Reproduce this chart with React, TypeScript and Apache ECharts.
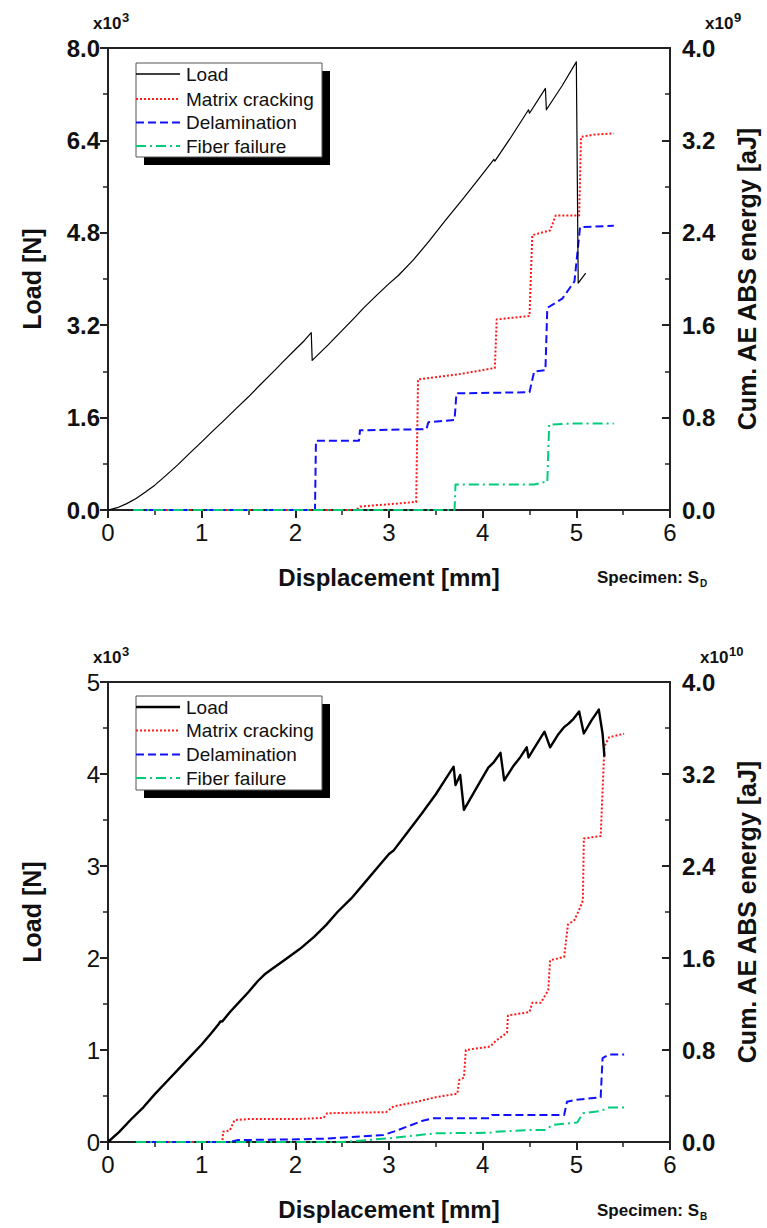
import React, { useEffect, useRef } from "react";
import * as echarts from "echarts";

// ---------- data (top chart: Specimen S_D) ----------
// displacement [mm], load [x10^3 N]
const topLoad: [number, number][] = [
  [0, 0], [0.1, 0.04], [0.2, 0.11], [0.3, 0.2], [0.4, 0.31], [0.5, 0.43], [0.62, 0.6],
  [0.75, 0.79], [0.87, 0.98], [1.0, 1.18], [1.12, 1.37], [1.25, 1.57], [1.37, 1.76],
  [1.5, 1.96], [1.62, 2.16], [1.75, 2.37], [1.87, 2.57], [2.0, 2.78], [2.1, 2.94],
  [2.17, 3.07], [2.18, 2.59], [2.35, 2.86], [2.5, 3.11], [2.62, 3.31], [2.73, 3.5],
  [2.87, 3.72], [3.0, 3.92], [3.1, 4.06], [3.26, 4.33], [3.43, 4.66], [3.6, 5.01],
  [3.8, 5.41], [4.0, 5.82], [4.12, 6.07], [4.13, 6.04], [4.3, 6.45], [4.49, 6.93],
  [4.5, 6.87], [4.67, 7.3], [4.68, 6.93], [4.85, 7.35], [5.0, 7.76], [5.02, 3.93],
  [5.1, 4.1],
];
// displacement [mm], cumulative AE energy [x10^9 aJ]
const topMatrix: [number, number][] = [
  [0.27, 0], [2.65, 0], [2.69, 0.03], [3.0, 0.05], [3.29, 0.07], [3.31, 1.13], [3.78, 1.18],
  [4.13, 1.23], [4.15, 1.65], [4.5, 1.68], [4.53, 2.38], [4.72, 2.42], [4.78, 2.55],
  [5.03, 2.55], [5.05, 3.23], [5.19, 3.25], [5.4, 3.26],
];
const topDelam: [number, number][] = [
  [0.27, 0], [2.21, 0], [2.22, 0.6], [2.68, 0.6], [2.69, 0.69], [3.4, 0.7], [3.42, 0.76],
  [3.7, 0.78], [3.72, 1.01], [4.5, 1.02], [4.55, 1.2], [4.67, 1.21], [4.69, 1.75],
  [4.85, 1.83], [4.98, 1.98], [5.04, 2.45], [5.4, 2.46],
];
const topFiber: [number, number][] = [
  [0.27, 0], [3.7, 0], [3.71, 0.22], [4.55, 0.22], [4.65, 0.24], [4.69, 0.24],
  [4.71, 0.74], [5.0, 0.75], [5.4, 0.75],
];

// ---------- data (bottom chart: Specimen S_B) ----------
// displacement [mm], load [x10^3 N]
const botLoad: [number, number][] = [
  [0, 0], [0.12, 0.11], [0.25, 0.25], [0.38, 0.38], [0.5, 0.52], [0.62, 0.65],
  [0.75, 0.79], [0.87, 0.92], [1.0, 1.06], [1.1, 1.18], [1.18, 1.28], [1.2, 1.31],
  [1.22, 1.31], [1.3, 1.41], [1.4, 1.52], [1.5, 1.63], [1.6, 1.75], [1.67, 1.82],
  [1.75, 1.88], [1.9, 1.99], [2.05, 2.1], [2.2, 2.23], [2.33, 2.36], [2.45, 2.5],
  [2.6, 2.65], [2.75, 2.83], [2.9, 3.01], [3.0, 3.13], [3.05, 3.17], [3.2, 3.37],
  [3.35, 3.57], [3.5, 3.78], [3.6, 3.94], [3.69, 4.08], [3.71, 3.88], [3.76, 3.99],
  [3.8, 3.61], [3.93, 3.84], [4.06, 4.07], [4.12, 4.13], [4.19, 4.23], [4.23, 3.93],
  [4.33, 4.09], [4.4, 4.18], [4.47, 4.29], [4.49, 4.18], [4.58, 4.33], [4.66, 4.46],
  [4.72, 4.29], [4.8, 4.42], [4.87, 4.51], [4.92, 4.55], [4.97, 4.6], [5.03, 4.68],
  [5.08, 4.44], [5.16, 4.58], [5.24, 4.7], [5.28, 4.44], [5.3, 4.19],
];
// displacement [mm], cumulative AE energy [x10^10 aJ]
const botMatrix: [number, number][] = [
  [0.3, 0], [1.22, 0], [1.23, 0.09], [1.3, 0.1], [1.35, 0.19], [1.5, 0.2], [2.03, 0.2],
  [2.3, 0.21], [2.34, 0.25], [2.97, 0.26], [3.05, 0.31], [3.3, 0.35], [3.5, 0.39],
  [3.73, 0.42], [3.75, 0.54], [3.8, 0.56], [3.82, 0.8], [4.08, 0.83], [4.14, 0.88],
  [4.26, 0.95], [4.27, 1.1], [4.5, 1.13], [4.53, 1.21], [4.62, 1.21], [4.7, 1.32],
  [4.72, 1.58], [4.87, 1.61], [4.91, 1.89], [4.98, 1.93], [5.03, 2.02], [5.07, 2.1],
  [5.08, 2.64], [5.26, 2.66], [5.3, 3.44], [5.35, 3.52], [5.51, 3.55],
];
const botDelam: [number, number][] = [
  [0.3, 0], [1.3, 0], [1.39, 0.017], [2.03, 0.023], [2.34, 0.03], [2.94, 0.061],
  [3.05, 0.09], [3.24, 0.148], [3.36, 0.185], [3.47, 0.206], [4.07, 0.206], [4.1, 0.235],
  [4.87, 0.235], [4.9, 0.35], [4.98, 0.365], [5.22, 0.385], [5.26, 0.39], [5.28, 0.73],
  [5.35, 0.76], [5.51, 0.76],
];
const botFiber: [number, number][] = [
  [0.3, 0], [2.5, 0], [2.97, 0.03], [3.5, 0.076], [4.07, 0.08], [4.14, 0.09], [4.52, 0.104],
  [4.66, 0.104], [4.75, 0.148], [5.01, 0.17], [5.07, 0.25], [5.26, 0.27], [5.35, 0.3],
  [5.51, 0.3],
];

const legendNames = ["Load", "Matrix cracking", "Delamination", "Fiber failure"];

const SANS = "'Liberation Sans',Arial,Helvetica,sans-serif";
const AX = "#222";
const RED = "#ff1a1a";
const BLUE = "#1010ff";
const GREEN = "#00cc7a";

const styles = [
  { color: "#000", dash: [] as number[] },
  { color: RED, dash: [2, 2] },
  { color: BLUE, dash: [8, 4] },
  { color: GREEN, dash: [10, 4, 2, 4] },
];

function xAxis(gridIndex: number) {
  return {
    gridIndex,
    type: "value",
    min: 0,
    max: 6,
    interval: 1,
    axisLine: { show: true, onZero: false, lineStyle: { color: AX, width: 2 } },
    axisTick: { show: true, inside: false, length: 8, lineStyle: { color: AX, width: 2 } },
    minorTick: { show: true, splitNumber: 2, length: 5, lineStyle: { color: AX, width: 1.5 } },
    splitLine: { show: false },
    axisLabel: { fontSize: 24, color: "#111", fontFamily: SANS, margin: 10 },
    name: "Displacement [mm]",
    nameLocation: "middle",
    nameGap: 55,
    nameTextStyle: { fontSize: 24, fontWeight: "bold", color: "#111", fontFamily: SANS },
  };
}

function yAxis(
  gridIndex: number,
  position: "left" | "right",
  max: number,
  interval: number,
  bold: boolean,
  decimals: number,
  name: string,
  nameGap: number
) {
  return {
    gridIndex,
    type: "value",
    position,
    min: 0,
    max,
    interval,
    axisLine: { show: true, onZero: false, lineStyle: { color: AX, width: 2 } },
    axisTick: {
      show: true,
      inside: position === "right",
      length: 8,
      lineStyle: { color: AX, width: 2 },
    },
    minorTick: { show: true, splitNumber: 2, length: 5, lineStyle: { color: AX, width: 1.5 } },
    splitLine: { show: false },
    axisLabel: {
      fontSize: 24,
      color: "#111",
      fontWeight: bold ? "bold" : "normal",
      fontFamily: SANS,
      margin: position === "right" ? 12 : 8,
      formatter: (v: number) => v.toFixed(decimals),
    },
    name,
    nameLocation: "middle",
    nameGap,
    nameRotate: 90,
    nameTextStyle: { fontSize: 25, fontWeight: "bold", color: "#111", fontFamily: SANS },
  };
}

function lineSeries(
  name: string,
  data: [number, number][],
  xi: number,
  yi: number,
  idx: number,
  width: number
) {
  const s = styles[idx];
  return {
    name,
    type: "line",
    xAxisIndex: xi,
    yAxisIndex: yi,
    data,
    showSymbol: false,
    symbol: "none",
    silent: true,
    z: idx === 0 ? 5 : 3,
    lineStyle: {
      color: s.color,
      width,
      type: s.dash.length ? s.dash : "solid",
      join: "round",
    },
  };
}

function legendBox(x: number, y: number, rowYs: number[], loadWidth: number) {
  const children: any[] = [
    { type: "rect", shape: { x: x + 8, y: y + 8, width: 186, height: 94 }, style: { fill: "#000" } },
    {
      type: "rect",
      shape: { x, y, width: 186, height: 94 },
      style: { fill: "#fff", stroke: "#555", lineWidth: 1 },
    },
  ];
  legendNames.forEach((n, i) => {
    const s = styles[i];
    children.push({
      type: "line",
      shape: { x1: x, y1: rowYs[i], x2: x + 44, y2: rowYs[i] },
      style: {
        stroke: s.color,
        lineWidth: i === 0 ? loadWidth : 2,
        lineDash: s.dash.length ? s.dash : null,
      },
    });
    children.push({
      type: "text",
      x: x + 50,
      y: rowYs[i],
      style: {
        text: n,
        fill: "#111",
        font: `19px ${SANS}`,
        verticalAlign: "middle",
        align: "left",
      },
    });
  });
  return { type: "group", children };
}

function powerLabel(x: number, y: number, exp: string) {
  return {
    type: "group",
    children: [
      {
        type: "text",
        x,
        y,
        style: { text: "x10", fill: "#111", font: `bold 17px ${SANS}`, verticalAlign: "bottom" },
      },
      {
        type: "text",
        x: x + 29,
        y: y - 8,
        style: { text: exp, fill: "#111", font: `bold 13px ${SANS}`, verticalAlign: "bottom" },
      },
    ],
  };
}

function specimen(x: number, y: number, sub: string) {
  return {
    type: "group",
    children: [
      {
        type: "text",
        x,
        y,
        style: { text: "Specimen: S", fill: "#111", font: `bold 17px ${SANS}`, verticalAlign: "middle" },
      },
      {
        type: "text",
        x: x + 103,
        y: y + 6,
        style: { text: sub, fill: "#111", font: `bold 10px ${SANS}`, verticalAlign: "middle" },
      },
    ],
  };
}

export default function App() {
  const ref = useRef<HTMLDivElement>(null);
  useEffect(() => {
    if (!ref.current) return;
    const chart = echarts.init(ref.current, null, { renderer: "svg" });
    const option: any = {
      animation: false,
      backgroundColor: "#fff",
      grid: [
        { left: 108, top: 48, width: 569, height: 462, show: true, borderColor: AX, borderWidth: 2, backgroundColor: "transparent" },
        { left: 108, top: 682, width: 569, height: 460, show: true, borderColor: AX, borderWidth: 2, backgroundColor: "transparent" },
      ],
      xAxis: [xAxis(0), xAxis(1)],
      yAxis: [
        yAxis(0, "left", 8, 1.6, true, 1, "Load [N]", 64),
        yAxis(0, "right", 4, 0.8, true, 1, "Cum. AE ABS energy [aJ]", 64),
        yAxis(1, "left", 5, 1, false, 0, "Load [N]", 64),
        yAxis(1, "right", 4, 0.8, true, 1, "Cum. AE ABS energy [aJ]", 64),
      ],
      series: [
        lineSeries("Load", topLoad, 0, 0, 0, 1.2),
        lineSeries("Matrix cracking", topMatrix, 0, 1, 1, 2),
        lineSeries("Delamination", topDelam, 0, 1, 2, 2),
        lineSeries("Fiber failure", topFiber, 0, 1, 3, 2),
        lineSeries("Load", botLoad, 1, 2, 0, 2.4),
        lineSeries("Matrix cracking", botMatrix, 1, 3, 1, 2),
        lineSeries("Delamination", botDelam, 1, 3, 2, 2),
        lineSeries("Fiber failure", botFiber, 1, 3, 3, 2),
      ],
      graphic: [
        legendBox(136, 63, [74, 99, 122.5, 146], 1.5),
        legendBox(136, 696, [707, 730.5, 754.5, 778], 2.5),
        powerLabel(93, 32, "3"),
        powerLabel(705, 32, "9"),
        powerLabel(93, 666, "3"),
        powerLabel(700, 666, "10"),
        specimen(597, 577, "D"),
        specimen(597, 1210, "B"),
      ],
    };
    chart.setOption(option);
    return () => chart.dispose();
  }, []);
  return (
    <div
      ref={ref}
      style={{ position: "absolute", left: 0, top: 0, width: 767, height: 1228, background: "#fff" }}
    />
  );
}
